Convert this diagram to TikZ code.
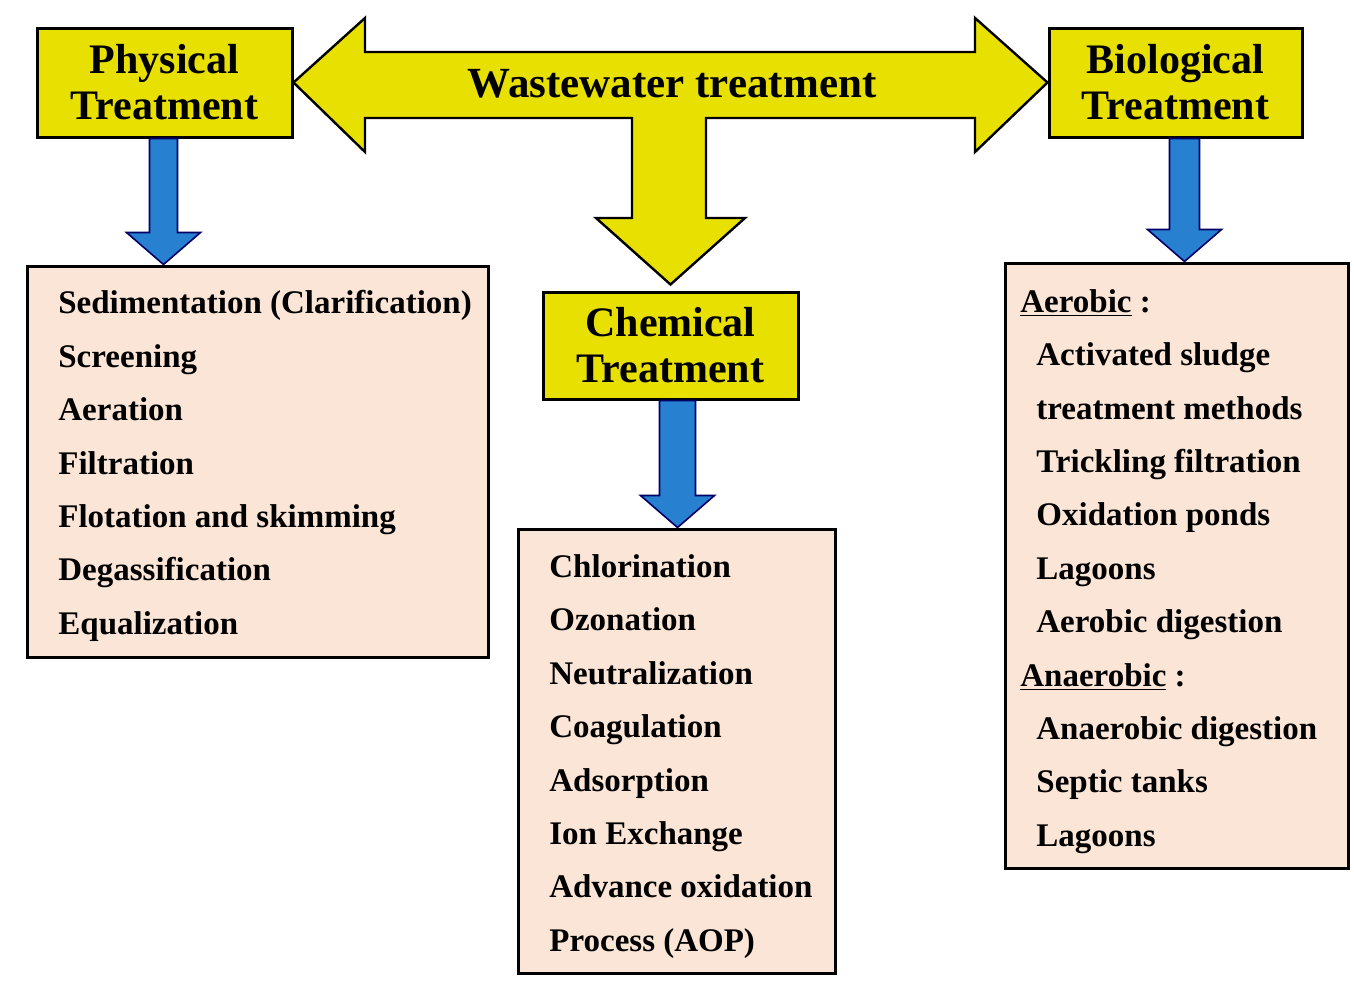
\documentclass[tikz,border=0pt]{standalone}
\usepackage{fontspec}
\setmainfont{Liberation Serif}
\usetikzlibrary{calc}
\definecolor{ylw}{RGB}{232,224,0}
\definecolor{blu}{RGB}{40,128,208}
\definecolor{pnk}{RGB}{251,229,214}
\newcommand\bluearrow[3]{\filldraw[barrow] ($(#1)+(-#3,0)$) -- ($(#1)+(#3,0)$) -- ($(#2)+(#3,-32)$) -- ($(#2)+(37,-32)$) -- (#2) -- ($(#2)+(-37,-32)$) -- ($(#2)+(-#3,-32)$) -- cycle;}
\begin{document}
\begin{tikzpicture}[x=0.5pt,y=-0.5pt,
 hdr/.style={draw=black,line width=1.5pt,fill=ylw,inner sep=0pt,align=center,font=\fontsize{21}{23}\selectfont\bfseries},
 listbox/.style={draw=black,line width=1.5pt,fill=pnk,inner sep=0pt},
 listtext/.style={align=left,inner sep=0pt,font=\fontsize{16.5}{26.7}\selectfont\bfseries,anchor=west},
 yarrow/.style={fill=ylw,draw=black,line width=1.2pt,line join=miter},
 barrow/.style={fill=blu,draw=black!60!blue,line width=0.8pt}]
\useasboundingbox[fill=white] (0,0) rectangle (1354,980);

% header boxes
\node[hdr,minimum width=127.5pt,minimum height=54.5pt] (phys) at (164.5,82.5) {Physical\\Treatment};
\node[hdr,minimum width=126.5pt,minimum height=54.5pt] (bio) at (1175.5,82.5) {Biological\\Treatment};
\node[hdr,minimum width=127.5pt,minimum height=53.5pt] (chem) at (670.5,345.5) {Chemical\\Treatment};

% list boxes
\node[listbox,minimum width=230.5pt,minimum height=195.5pt] (physlist) at (257.5,461.5) {};
\node[listbox,minimum width=158.5pt,minimum height=222pt] (chemlist) at (676.5,751) {};
\node[listbox,minimum width=171.5pt,minimum height=302.5pt] (biolist) at (1176.5,565.5) {};

% list texts
\node[listtext] (phystext) at (58,466) {Sedimentation (Clarification)\\Screening\\Aeration\\Filtration\\Flotation and skimming\\Degassification\\Equalization};
\node[listtext] (chemtext) at (549,756.5) {Chlorination\\Ozonation\\Neutralization\\Coagulation\\Adsorption\\Ion Exchange\\Advance oxidation\\Process (AOP)};
\node[listtext] (biotext) at (1020,571.5) {\underline{Aerobic} :\\
\hspace{8pt}Activated sludge\\
\hspace{8pt}treatment methods\\
\hspace{8pt}Trickling filtration\\
\hspace{8pt}Oxidation ponds\\
\hspace{8pt}Lagoons\\
\hspace{8pt}Aerobic digestion\\
\underline{Anaerobic} :\\
\hspace{8pt}Anaerobic digestion\\
\hspace{8pt}Septic tanks\\
\hspace{8pt}Lagoons};

% central yellow arrow
\coordinate (ctip) at ($(chem.north)+(0,-6)$);
\filldraw[yarrow] (phys.east) -- (365,18) -- (365,52) -- (975,52) -- (975,18) -- (bio.west)
  -- (975,152) -- (975,118) -- (706,118) -- (706,218) -- (745,218) -- (ctip)
  -- (596,218) -- (632,218) -- (632,118) -- (365,118) -- (365,152) -- cycle;
\node[font=\fontsize{21.5}{24}\selectfont\bfseries] (ww) at (672,84) {Wastewater treatment};

% blue arrows
\coordinate (pa) at ($(phys.south)+(-1,0)$);
\coordinate (pb) at (pa |- physlist.north);
\bluearrow{pa}{pb}{14}
\coordinate (ca) at ($(chem.south)+(7,0)$);
\coordinate (cb) at (ca |- chemlist.north);
\bluearrow{ca}{cb}{18}
\coordinate (ba) at ($(bio.south)+(9,0)$);
\coordinate (bb) at (ba |- biolist.north);
\bluearrow{ba}{bb}{15}
\end{tikzpicture}
\end{document}
